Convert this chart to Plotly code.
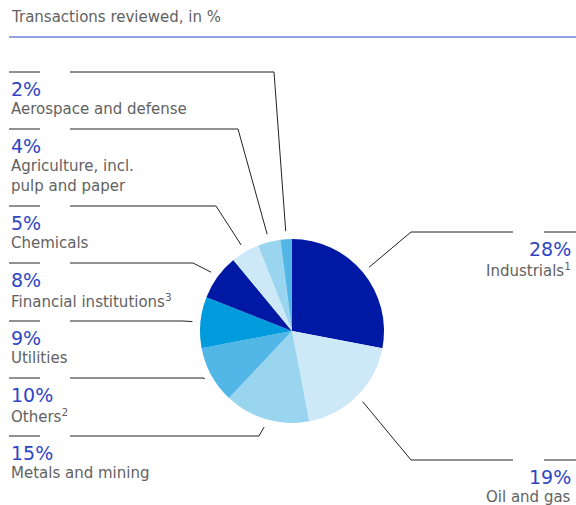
import math
import plotly.graph_objects as go

# ---------------- data ----------------
categories = [
    "Industrials<sup>1</sup>",
    "Oil and gas",
    "Metals and mining",
    "Others<sup>2</sup>",
    "Utilities",
    "Financial institutions<sup>3</sup>",
    "Chemicals",
    "Agriculture, incl.<br>pulp and paper",
    "Aerospace and defense",
]
values = [28, 19, 15, 10, 9, 8, 5, 4, 2]
colors = ["#0019a5", "#cde9f8", "#9ad5f0", "#52b6e6", "#009bdc",
          "#0019a5", "#cde9f8", "#9ad5f0", "#52b6e6"]
title_text = "Transactions reviewed, in %"

# ---------------- layout (pixels) ----------------
W, H = 576, 505
CX, CY, R = 292, 331, 92
label_side = ["right", "right", "left", "left", "left", "left", "left", "left", "left"]
label_line_y = [232, 460, 436, 378, 321, 263, 206, 129, 72]
label_elbow_x = [411, 411, 259, 204, 183, 193, 216, 238, 274]

PCT_COLOR = "#2f45c4"
TXT_COLOR = "#626262"
FONT = "DejaVu Sans"


def px(x):
    return x / W


def py(y):
    return 1 - y / H


fig = go.Figure(go.Pie(
    labels=categories,
    values=values,
    marker=dict(colors=colors, line=dict(width=0)),
    sort=False,
    direction="clockwise",
    rotation=0,
    textinfo="none",
    hoverinfo="label+percent",
    showlegend=False,
    domain=dict(x=[px(CX - R), px(CX + R)], y=[py(CY + R), py(CY - R)]),
))

shapes = []
annotations = []

# title + rule
annotations.append(dict(x=px(9), y=py(17), xref="paper", yref="paper",
                        text=title_text, showarrow=False, xanchor="left", yanchor="middle",
                        font=dict(family=FONT, size=15, color=TXT_COLOR)))
shapes.append(dict(type="line", xref="paper", yref="paper",
                   x0=px(9), x1=px(W), y0=py(37), y1=py(37),
                   line=dict(color=PCT_COLOR, width=1)))

total = sum(values)
cum = 0
for i, v in enumerate(values):
    mid = (cum + v / 2) / total
    cum += v
    ang = mid * 2 * math.pi
    ex = CX + (R + 8) * math.sin(ang)
    ey = CY - (R + 8) * math.cos(ang)
    ly = label_line_y[i]
    bx = label_elbow_x[i]
    pct = f"{round(v / total * 100)}%"
    if label_side[i] == "left":
        shapes.append(dict(type="line", xref="paper", yref="paper",
                           x0=px(9), x1=px(40), y0=py(ly), y1=py(ly),
                           line=dict(color="#222", width=1)))
        path = f"M {px(70)},{py(ly)} L {px(bx)},{py(ly)} L {px(ex)},{py(ey)}"
        tx, anchor = 9, "left"
    else:
        shapes.append(dict(type="line", xref="paper", yref="paper",
                           x0=px(544), x1=px(W), y0=py(ly), y1=py(ly),
                           line=dict(color="#222", width=1)))
        path = f"M {px(513)},{py(ly)} L {px(bx)},{py(ly)} L {px(ex)},{py(ey)}"
        tx, anchor = 573, "right"
    shapes.append(dict(type="path", xref="paper", yref="paper", path=path,
                       line=dict(color="#222", width=1)))
    annotations.append(dict(x=px(tx), y=py(ly + 17), xref="paper", yref="paper",
                            text=pct, showarrow=False, xanchor=anchor, yanchor="middle",
                            font=dict(family=FONT, size=19, color=PCT_COLOR)))
    annotations.append(dict(x=px(tx), y=py(ly + 26), xref="paper", yref="paper",
                            text=categories[i], showarrow=False, xanchor=anchor, yanchor="top",
                            align=anchor,
                            font=dict(family=FONT, size=15, color=TXT_COLOR)))

fig.update_layout(
    width=W, height=H,
    margin=dict(l=0, r=0, t=0, b=0),
    paper_bgcolor="white",
    plot_bgcolor="white",
    shapes=shapes,
    annotations=annotations,
)

fig.write_html("out.html", config={"displayModeBar": False},
               post_script="document.body.style.margin='0';document.body.style.overflow='hidden';")
